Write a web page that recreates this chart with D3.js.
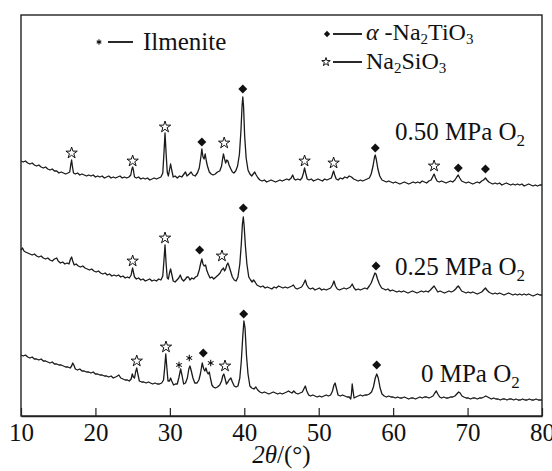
<!DOCTYPE html>
<html>
<head>
<meta charset="utf-8">
<script src="https://cdn.jsdelivr.net/npm/d3@7"></script>
<style>
  html, body { margin: 0; padding: 0; background: #fff; }
  svg { display: block; }
</style>
</head>
<body>
<svg id="chart" width="552" height="471"></svg>
<script>
// XRD patterns (2θ in degrees, intensity in a.u., patterns stacked)
const pattern050 = [
[10.0,255],[10.3,254],[10.6,255],[10.9,253],[11.2,252],[11.5,253],[11.8,251],[12.1,250],[12.4,251],[12.7,249],[13.0,248],[13.3,249],[13.6,247],[13.9,246],[14.2,247],[14.5,245],[14.8,245],[15.1,243],[15.4,244],[15.7,243],[16.0,242],[16.3,243],[16.55,244],[16.7,252],[16.8,256],[16.9,250],[17.05,243],[17.3,242],[17.6,243],[17.9,241],[18.2,242],[18.5,241],[18.8,240],[19.1,241],[19.4,240],[19.7,241],[20.0,239],[20.3,240],[20.6,239],[20.9,240],[21.2,238],[21.5,239],[21.8,240],[22.1,238],[22.4,239],[22.7,238],[23.0,239],[23.3,240],[23.6,238],[23.9,239],[24.2,238],[24.5,239],[24.75,241],[24.9,247],[25.0,249],[25.1,246],[25.25,239],[25.5,238],[25.8,239],[26.1,237],[26.4,238],[26.7,237],[27.0,238],[27.3,236],[27.6,237],[27.9,238],[28.2,237],[28.5,238],[28.8,239],[29.05,243],[29.2,262],[29.35,283],[29.5,262],[29.65,244],[29.8,240],[29.95,246],[30.1,252],[30.25,246],[30.45,239],[30.7,240],[31.0,238],[31.3,240],[31.6,239],[31.9,242],[32.1,244],[32.3,240],[32.6,242],[32.85,244],[33.1,241],[33.4,240],[33.7,243],[33.95,248],[34.15,258],[34.3,267],[34.45,259],[34.6,257],[34.75,262],[34.9,255],[35.05,250],[35.3,244],[35.55,242],[35.8,241],[36.1,242],[36.4,244],[36.7,245],[36.95,250],[37.1,258],[37.2,262],[37.35,257],[37.5,253],[37.65,256],[37.8,255],[37.95,251],[38.2,247],[38.4,244],[38.6,243],[38.85,245],[39.1,250],[39.35,262],[39.55,285],[39.7,310],[39.8,319],[39.9,310],[40.05,280],[40.25,258],[40.5,246],[40.75,242],[41.0,240],[41.2,242],[41.4,244],[41.6,241],[41.85,238],[42.1,236],[42.4,235],[42.7,236],[43.0,234],[43.3,235],[43.6,236],[43.9,235],[44.2,234],[44.5,235],[44.8,236],[45.1,235],[45.4,236],[45.7,237],[46.0,236],[46.3,238],[46.5,241],[46.7,237],[46.9,236],[47.2,237],[47.5,236],[47.75,238],[47.95,243],[48.1,248],[48.25,243],[48.45,237],[48.7,236],[49.0,237],[49.3,235],[49.6,236],[49.9,237],[50.2,236],[50.5,235],[50.8,237],[51.1,236],[51.4,237],[51.7,238],[51.9,243],[52.0,245],[52.15,241],[52.35,237],[52.6,236],[52.9,238],[53.2,237],[53.5,239],[53.8,238],[54.1,240],[54.4,239],[54.7,237],[55.0,236],[55.3,235],[55.6,236],[55.9,235],[56.2,236],[56.5,237],[56.8,238],[57.05,242],[57.3,250],[57.5,259],[57.6,261],[57.75,256],[57.95,247],[58.2,240],[58.5,236],[58.8,235],[59.1,234],[59.4,235],[59.7,234],[60.0,233],[60.3,234],[60.6,233],[60.9,232],[61.2,233],[61.5,234],[61.8,233],[62.1,232],[62.4,233],[62.7,234],[63.0,233],[63.3,234],[63.6,233],[63.9,235],[64.2,234],[64.5,233],[64.8,235],[65.1,236],[65.3,239],[65.5,242],[65.7,238],[65.9,235],[66.2,234],[66.5,235],[66.8,234],[67.1,233],[67.4,234],[67.7,235],[68.0,234],[68.3,236],[68.55,239],[68.75,241],[68.95,238],[69.2,235],[69.5,234],[69.8,233],[70.1,234],[70.4,233],[70.7,232],[71.0,233],[71.3,234],[71.6,233],[71.9,235],[72.15,236],[72.4,238],[72.6,236],[72.85,234],[73.1,233],[73.4,232],[73.7,233],[74.0,232],[74.3,233],[74.6,231],[74.9,232],[75.2,233],[75.5,232],[75.8,231],[76.1,232],[76.4,231],[76.7,232],[77.0,231],[77.3,232],[77.6,230],[77.9,231],[78.2,232],[78.5,231],[78.8,230],[79.1,231],[79.4,230],[79.7,231],[80.0,231]
];

const pattern025 = [
[10.0,166],[10.2,168],[10.4,165],[10.6,164],[10.9,163],[11.2,162],[11.5,161],[11.8,162],[12.1,160],[12.4,159],[12.7,160],[13.0,158],[13.3,157],[13.6,158],[13.9,156],[14.2,155],[14.5,157],[14.8,158],[15.0,155],[15.3,153],[15.6,154],[15.9,152],[16.2,153],[16.45,152],[16.65,157],[16.8,159],[16.95,155],[17.15,151],[17.4,152],[17.7,150],[18.0,149],[18.3,150],[18.6,148],[18.9,147],[19.2,146],[19.5,147],[19.8,145],[20.1,144],[20.4,145],[20.7,143],[21.0,142],[21.3,143],[21.6,141],[21.9,142],[22.2,140],[22.5,141],[22.8,140],[23.1,141],[23.4,139],[23.7,140],[24.0,138],[24.3,139],[24.55,138],[24.8,141],[24.9,145],[25.0,148],[25.1,144],[25.25,139],[25.5,137],[25.8,138],[26.1,136],[26.4,137],[26.7,135],[27.0,136],[27.3,137],[27.6,135],[27.9,136],[28.2,135],[28.5,137],[28.8,136],[29.05,140],[29.2,155],[29.35,171],[29.5,152],[29.65,138],[29.8,137],[29.95,143],[30.1,147],[30.25,142],[30.45,135],[30.7,134],[30.95,136],[31.2,138],[31.4,141],[31.6,137],[31.85,135],[32.1,137],[32.3,139],[32.5,139],[32.7,136],[32.95,138],[33.2,137],[33.45,139],[33.7,140],[33.95,146],[34.15,153],[34.3,157],[34.45,152],[34.6,150],[34.8,151],[34.95,146],[35.15,142],[35.4,138],[35.65,139],[35.9,137],[36.2,139],[36.5,141],[36.75,143],[36.95,146],[37.1,147],[37.2,148],[37.35,145],[37.5,147],[37.65,151],[37.8,153],[37.95,150],[38.15,145],[38.4,139],[38.65,136],[38.9,135],[39.15,139],[39.4,152],[39.6,172],[39.75,192],[39.87,199],[39.98,190],[40.15,170],[40.35,152],[40.6,139],[40.85,136],[41.05,134],[41.25,136],[41.45,134],[41.7,131],[41.95,130],[42.2,129],[42.5,130],[42.8,128],[43.1,129],[43.4,128],[43.7,127],[44.0,129],[44.3,128],[44.6,130],[44.9,129],[45.2,128],[45.5,129],[45.8,128],[46.1,129],[46.4,130],[46.6,131],[46.85,128],[47.1,127],[47.4,128],[47.7,129],[47.95,132],[48.2,136],[48.4,131],[48.65,128],[48.9,127],[49.2,128],[49.5,126],[49.8,127],[50.1,128],[50.4,126],[50.7,127],[51.0,126],[51.3,127],[51.6,128],[51.85,131],[52.05,135],[52.25,130],[52.5,127],[52.8,126],[53.1,127],[53.4,128],[53.7,127],[54.0,128],[54.25,129],[54.5,132],[54.75,128],[55.0,126],[55.3,127],[55.6,126],[55.9,127],[56.2,128],[56.5,127],[56.8,130],[57.05,133],[57.3,138],[57.55,143],[57.7,142],[57.9,137],[58.15,132],[58.45,128],[58.75,127],[59.0,126],[59.3,127],[59.6,125],[59.9,126],[60.2,125],[60.5,124],[60.8,125],[61.1,124],[61.4,125],[61.7,124],[62.0,123],[62.3,124],[62.6,125],[62.9,124],[63.2,123],[63.5,124],[63.8,125],[64.1,124],[64.4,125],[64.7,124],[65.0,126],[65.25,128],[65.5,130],[65.75,127],[66.0,124],[66.3,125],[66.6,124],[66.9,123],[67.2,124],[67.5,125],[67.8,124],[68.1,125],[68.4,127],[68.6,129],[68.75,130],[68.95,128],[69.2,125],[69.5,124],[69.8,123],[70.1,124],[70.4,123],[70.7,124],[71.0,123],[71.3,122],[71.6,123],[71.9,124],[72.15,126],[72.4,128],[72.6,126],[72.85,124],[73.1,123],[73.4,122],[73.7,123],[74.0,122],[74.3,123],[74.6,122],[74.9,121],[75.2,122],[75.5,123],[75.8,122],[76.1,121],[76.4,122],[76.7,121],[77.0,122],[77.3,121],[77.6,122],[77.9,121],[78.2,122],[78.5,121],[78.8,120],[79.1,121],[79.4,122],[79.7,121],[80.0,121]
];

const pattern000 = [
[10.0,61],[10.3,60],[10.6,61],[10.9,59],[11.2,58],[11.5,59],[11.8,57],[12.1,57],[12.4,56],[12.7,57],[13.0,55],[13.3,55],[13.6,54],[13.9,53],[14.2,54],[14.5,52],[14.8,52],[15.1,51],[15.4,51],[15.7,50],[16.0,49],[16.3,49],[16.6,48],[16.8,50],[16.95,53],[17.1,51],[17.3,47],[17.6,46],[17.9,47],[18.2,45],[18.5,45],[18.8,44],[19.1,44],[19.4,43],[19.7,44],[20.0,42],[20.3,42],[20.6,41],[20.9,41],[21.2,40],[21.5,40],[21.8,39],[22.1,40],[22.4,38],[22.7,39],[22.95,40],[23.15,41],[23.4,38],[23.7,37],[24.0,36],[24.3,36],[24.55,35],[24.8,37],[24.95,42],[25.1,39],[25.25,38],[25.4,44],[25.55,48],[25.7,42],[25.9,35],[26.2,34],[26.5,34],[26.8,33],[27.1,34],[27.4,33],[27.7,32],[28.0,33],[28.3,32],[28.6,32],[28.9,33],[29.15,36],[29.3,48],[29.45,62],[29.6,48],[29.75,35],[29.95,35],[30.1,38],[30.25,35],[30.5,31],[30.75,32],[31.0,32],[31.2,38],[31.45,47],[31.65,40],[31.85,32],[32.1,33],[32.35,38],[32.55,47],[32.7,50],[32.85,46],[33.1,38],[33.35,33],[33.65,33],[33.9,36],[34.1,42],[34.35,53],[34.55,47],[34.7,45],[34.85,48],[35.0,44],[35.15,42],[35.3,44],[35.45,38],[35.65,31],[35.85,29],[36.1,28],[36.4,29],[36.7,31],[36.95,35],[37.1,40],[37.25,42],[37.4,38],[37.6,32],[37.8,34],[37.95,36],[38.2,38],[38.4,34],[38.65,30],[38.9,29],[39.15,30],[39.4,38],[39.6,55],[39.8,80],[39.95,95],[40.1,88],[40.3,60],[40.5,42],[40.75,30],[41.0,28],[41.3,27],[41.55,29],[41.8,26],[42.1,24],[42.4,23],[42.7,24],[43.0,23],[43.3,22],[43.6,23],[43.9,24],[44.2,23],[44.5,22],[44.8,23],[45.1,22],[45.4,23],[45.7,24],[45.95,25],[46.15,24],[46.4,23],[46.65,25],[46.9,23],[47.2,22],[47.5,23],[47.8,24],[48.0,27],[48.2,30],[48.4,25],[48.65,21],[48.9,20],[49.2,21],[49.5,20],[49.8,19],[50.1,20],[50.4,19],[50.7,20],[51.0,21],[51.3,20],[51.6,21],[51.85,25],[52.05,31],[52.2,33],[52.4,27],[52.6,21],[52.9,20],[53.2,21],[53.5,20],[53.8,19],[54.1,19],[54.3,17],[54.4,22],[54.5,32],[54.6,26],[54.75,18],[55.0,19],[55.3,20],[55.6,21],[55.9,20],[56.2,21],[56.5,21],[56.8,22],[57.1,24],[57.35,29],[57.6,38],[57.8,42],[58.0,38],[58.25,28],[58.5,22],[58.8,20],[59.1,19],[59.4,20],[59.7,19],[60.0,19],[60.3,18],[60.6,19],[60.9,18],[61.2,18],[61.5,19],[61.8,18],[62.1,17],[62.4,18],[62.7,18],[63.0,17],[63.3,18],[63.6,19],[63.9,18],[64.2,19],[64.5,19],[64.8,18],[65.1,19],[65.35,20],[65.6,23],[65.8,25],[66.0,22],[66.25,19],[66.5,18],[66.8,19],[67.1,18],[67.4,18],[67.7,19],[68.0,19],[68.3,20],[68.55,22],[68.8,24],[69.0,23],[69.25,20],[69.5,19],[69.8,18],[70.1,18],[70.4,17],[70.7,18],[71.0,18],[71.3,17],[71.6,18],[71.9,18],[72.2,19],[72.45,20],[72.7,19],[72.95,18],[73.2,17],[73.5,18],[73.8,17],[74.1,17],[74.4,16],[74.7,17],[75.0,17],[75.3,16],[75.6,17],[75.9,17],[76.2,16],[76.5,17],[76.8,16],[77.1,16],[77.4,17],[77.7,16],[78.0,16],[78.3,17],[78.6,16],[78.9,16],[79.2,17],[79.5,16],[79.8,16],[80.0,16]
];

// Phase identification marks: [2θ, intensity, phase]
// phase: D = α-Na2TiO3, S = Na2SiO3, A = ilmenite
const marks050 = [
  [16.8,263,"S"],[25.0,255,"S"],[29.35,289,"S"],[34.3,274,"D"],[37.3,273,"S"],
  [39.8,327,"D"],[48.1,255,"S"],[52.0,253,"S"],[57.6,268,"D"],[65.5,250,"S"],
  [68.75,248,"D"],[72.4,247,"D"]
];
const marks025 = [
  [25.0,155,"S"],[29.35,178,"S"],[34.0,166,"D"],[37.0,160,"S"],[39.87,208,"D"],[57.7,150,"D"]
];
const marks000 = [
  [25.55,55,"S"],[29.48,69,"S"],[31.23,51,"A"],[32.61,58,"A"],[34.49,63,"D"],
  [35.49,53,"A"],[37.41,50,"S"],[39.92,102,"D"],[57.79,51,"D"]
];

// Pattern labels: [2θ, intensity, text before subscript]
const sampleLabels = [
  [60.25, 276, "0.50 MPa O"],
  [60.25, 141, "0.25 MPa O"],
  [63.74, 34, "0 MPa O"]
];

const xTicks = [10, 20, 30, 40, 50, 60, 70, 80];

const serif = "'Liberation Serif', 'DejaVu Serif', 'Times New Roman', serif";
const svg = d3.select("#chart")
  .style("font-family", serif);
const plot = { left: 21, right: 542, top: 15, bottom: 416 };

const x = d3.scaleLinear().domain([10, 80]).range([plot.left, plot.right]);
const y = d3.scaleLinear().domain([0, 401]).range([plot.bottom, plot.top]);

const line = d3.line().x(d => x(d[0])).y(d => y(d[1])).curve(d3.curveLinear);

const traces = svg.append("g");
[pattern050, pattern025, pattern000].forEach(p => {
  traces.append("path")
    .datum(p)
    .attr("d", line)
    .attr("fill", "none")
    .attr("stroke", "#1a1a1a")
    .attr("stroke-width", 1.3)
    .attr("stroke-linejoin", "round");
});

// marker glyphs
const diamondPath = d3.symbol().type(d3.symbolSquare).size(40)();
const starPath = d3.symbol().type(d3.symbolStar).size(40)();
const astPath = d3.symbol().type(d3.symbolAsterisk).size(30)();

function drawMark(g, px, py, phase, scale) {
  const s = scale || 1;
  if (phase === "D") {
    g.append("path").attr("d", diamondPath)
      .attr("transform", `translate(${px},${py}) rotate(45) scale(${s})`)
      .attr("fill", "#111");
  } else if (phase === "S") {
    g.append("path").attr("d", starPath)
      .attr("transform", `translate(${px},${py}) scale(${s})`)
      .attr("fill", "#fff").attr("stroke", "#111").attr("stroke-width", 1 / s);
  } else {
    g.append("path").attr("d", astPath)
      .attr("transform", `translate(${px},${py}) scale(${s})`)
      .attr("fill", "none").attr("stroke", "#111").attr("stroke-width", 1.1 / s);
  }
}

const markG = svg.append("g");
[marks050, marks025, marks000].forEach(ms => {
  ms.forEach(m => drawMark(markG, x(m[0]), y(m[1]), m[2]));
});

function styleText(sel, size) {
  return sel.style("font-family", serif).style("font-size", size + "px").style("fill", "#111");
}

// sample labels with subscript 2
sampleLabels.forEach(l => {
  const t = styleText(svg.append("text"), 25)
    .attr("x", x(l[0])).attr("y", y(l[1]));
  t.append("tspan").text(l[2]);
  t.append("tspan").style("font-size", "17px").attr("dy", 6).text("2");
});

// frame
svg.append("rect")
  .attr("x", plot.left).attr("y", plot.top)
  .attr("width", plot.right - plot.left).attr("height", plot.bottom - plot.top)
  .attr("fill", "none").attr("stroke", "#222").attr("stroke-width", 1.4);

// bottom axis, ticks pointing inward
const axis = svg.append("g")
  .attr("transform", `translate(0,${plot.bottom})`)
  .call(d3.axisBottom(x).tickValues(xTicks).tickSizeInner(-8).tickSizeOuter(0).tickPadding(7));
axis.select(".domain").attr("stroke", "#222").attr("stroke-width", 1.4);
axis.selectAll(".tick line").attr("stroke", "#222").attr("stroke-width", 1.2);
styleText(axis.selectAll(".tick text"), 25);

// axis title: 2θ/(°)
const title = styleText(svg.append("text"), 25)
  .attr("x", (plot.left + plot.right) / 2).attr("y", 463)
  .attr("text-anchor", "middle");
title.append("tspan").style("font-style", "italic").text("2θ");
title.append("tspan").text("/(°)");

// legend
const lg = svg.append("g");
drawMark(lg, 99, 42, "A", 0.8);
lg.append("line").attr("x1", 108).attr("x2", 133).attr("y1", 42).attr("y2", 42)
  .attr("stroke", "#111").attr("stroke-width", 1.8);
styleText(lg.append("text"), 25).attr("x", 143).attr("y", 50).text("Ilmenite");

drawMark(lg, 327, 34, "D", 0.7);
lg.append("line").attr("x1", 333).attr("x2", 362).attr("y1", 34).attr("y2", 34)
  .attr("stroke", "#111").attr("stroke-width", 1.8);
const l2 = styleText(lg.append("text"), 24).attr("x", 366).attr("y", 40);
l2.append("tspan").style("font-style", "italic").text("α");
l2.append("tspan").text(" -Na");
l2.append("tspan").style("font-size", "15px").attr("dy", 4).text("2");
l2.append("tspan").attr("dy", -4).text("TiO");
l2.append("tspan").style("font-size", "15px").attr("dy", 4).text("3");

drawMark(lg, 326, 62, "S", 0.75);
lg.append("line").attr("x1", 333).attr("x2", 362).attr("y1", 62).attr("y2", 62)
  .attr("stroke", "#111").attr("stroke-width", 1.8);
const l3 = styleText(lg.append("text"), 24).attr("x", 366).attr("y", 69);
l3.append("tspan").text("Na");
l3.append("tspan").style("font-size", "15px").attr("dy", 4).text("2");
l3.append("tspan").attr("dy", -4).text("SiO");
l3.append("tspan").style("font-size", "15px").attr("dy", 4).text("3");
</script>
</body>
</html>
